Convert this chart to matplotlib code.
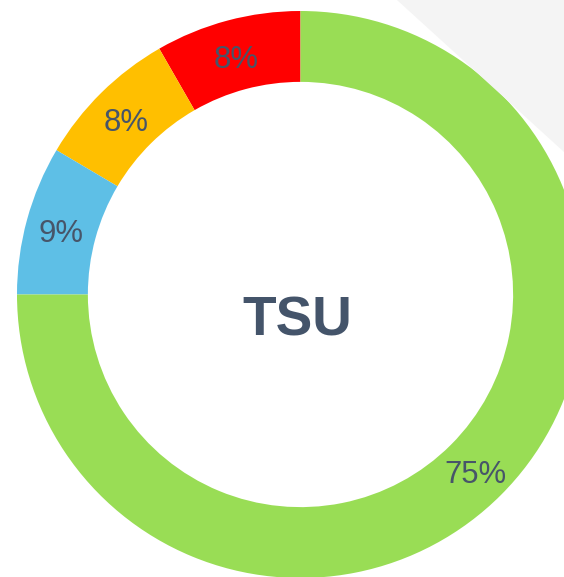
import matplotlib
matplotlib.use("Agg")
import matplotlib.pyplot as plt
from matplotlib.patches import Polygon

# slices, counter-clockwise from 12 o'clock
labels = ["Red", "Amber", "Blue", "Green"]
values = [8.3, 8.2, 8.5, 75.0]
colors = ["#ff0000", "#ffbf00", "#5ebfe6", "#99dd55"]
center_text = "TSU"

W, H = 564, 577
fig = plt.figure(figsize=(W / 100, H / 100), dpi=100)

# light gray background shape in the top right corner
fig.patches.append(Polygon([(397 / W, 1), (1, 1), (1, 1 - 152 / H)],
                           closed=True, transform=fig.transFigure,
                           facecolor="#f4f4f4", edgecolor="none", zorder=0))

# donut centre at (300.5, 294.5) px, outer radius 283.5 px
cx, cy, r = 300.5, 294.5, 283.5
ax = fig.add_axes([(cx - r) / W, (H - cy - r) / H, 2 * r / W, 2 * r / H])
ax.patch.set_alpha(0)

def fmt(p):
    return f"{int(p + 0.5)}%"

wedges, texts, autotexts = ax.pie(values, colors=colors, startangle=90,
                                  counterclock=True, radius=1,
                                  autopct=fmt, pctdistance=0.875,
                                  wedgeprops=dict(width=0.25, edgecolor="none"),
                                  textprops=dict(color="#475569", fontsize=22.3,
                                                 family="Liberation Sans"))
# put the digits' baseline so the caps sit centred in the ring
for t in autotexts:
    x, y = t.get_position()
    t.set_position((x, y - 0.047))
    t.set_va("baseline")

ax.set_xlim(-1, 1)
ax.set_ylim(-1, 1)
ax.axis("off")

ax.text(-0.01, -0.143, center_text, ha="center", va="baseline", fontsize=39.5,
        fontweight="bold", color="#44546a", family="Liberation Sans")

fig.savefig("out.png", dpi=100)
